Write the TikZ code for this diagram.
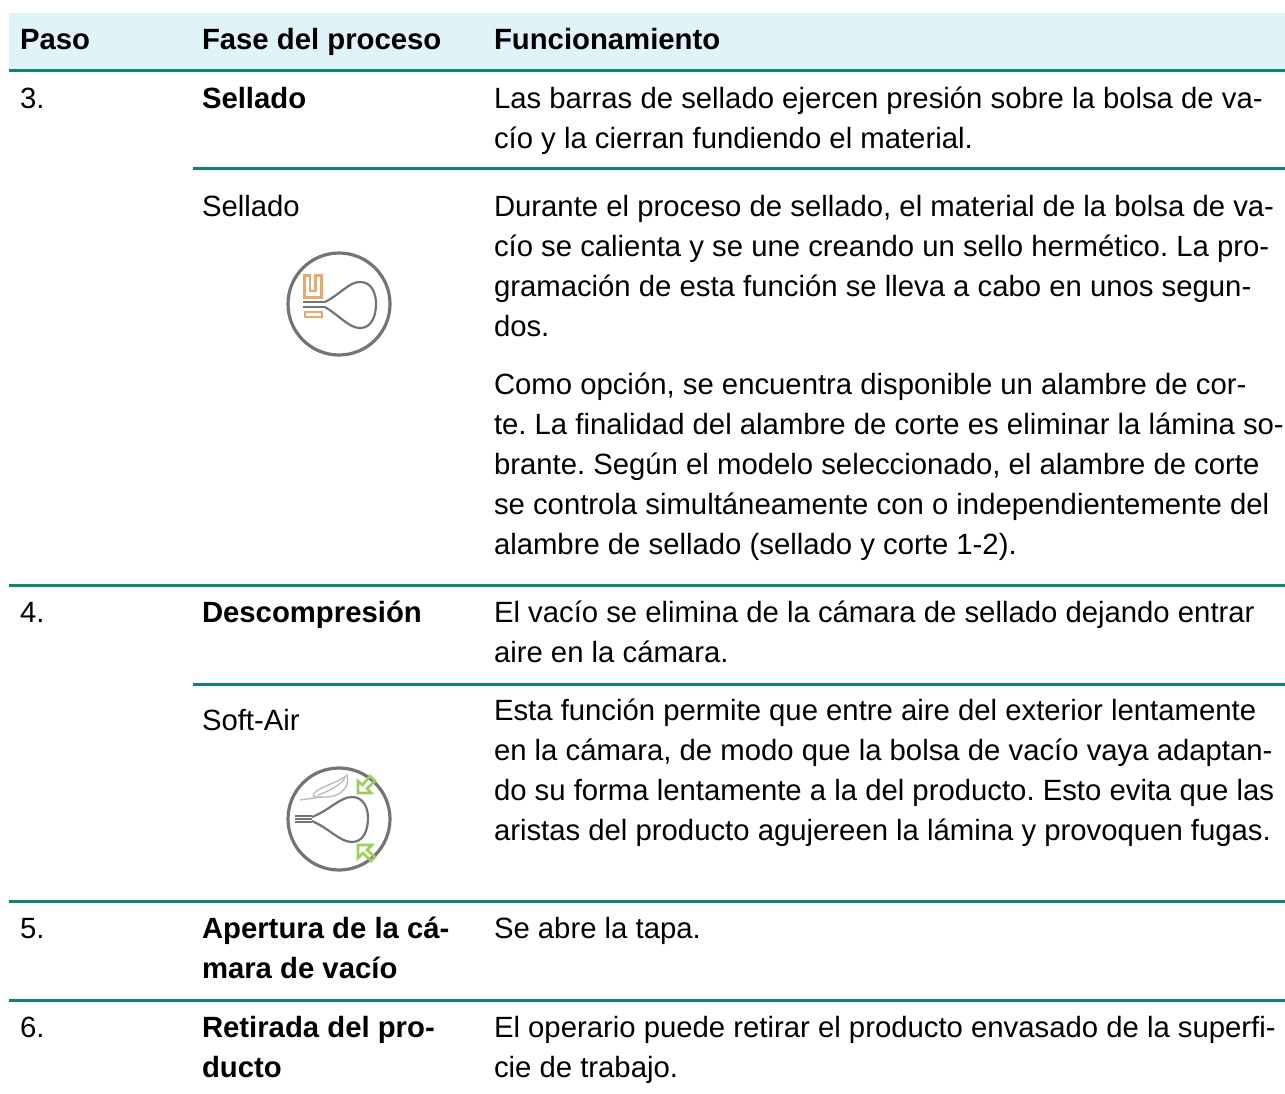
\documentclass[tikz,border=0pt]{standalone}
\usepackage{fontspec}
\setmainfont{Liberation Sans}
\frenchspacing
\tikzset{
 tx/.style={anchor=base west,inner sep=0pt,outer sep=0pt,text=black,font=\fontsize{29.3}{34}\selectfont},
 bd/.style={tx,font=\fontsize{29.3}{34}\selectfont\bfseries},
 rule/.style={draw=tealrule,line width=3pt},
 ring/.style={draw=iconGray,line width=3.2pt},
 bag/.style={draw=iconGray,line width=2.2pt},
 cord/.style={draw=iconGray,line width=1.5pt},
 orangeline/.style={draw=iconOrange,line width=2.3pt},
 greenline/.style={draw=iconGreen,line width=2.6pt,line join=miter},
 feather/.style={draw=black!28,line width=1.3pt},
}
\definecolor{tealrule}{HTML}{0E8573}
\definecolor{headbg}{HTML}{DFF3F8}
\definecolor{iconGray}{HTML}{747474}
\definecolor{iconOrange}{HTML}{EBA868}
\definecolor{iconGreen}{HTML}{9BCF5A}
\begin{document}
\begin{tikzpicture}[x=1pt,y=-1pt]
\useasboundingbox (0,0) rectangle (1285,1093);
\fill[headbg] (9,13) rectangle (1285,69);
\coordinate (r0a) at (9,70.5); \coordinate (r0b) at (1285,70.5);
\coordinate (r1a) at (193,168.5); \coordinate (r1b) at (1285,168.5);
\coordinate (r2a) at (9,585); \coordinate (r2b) at (1285,585);
\coordinate (r3a) at (193,684); \coordinate (r3b) at (1285,684);
\coordinate (r4a) at (9,901.5); \coordinate (r4b) at (1285,901.5);
\coordinate (r5a) at (9,1000); \coordinate (r5b) at (1285,1000);
\draw[rule] (r0a)--(r0b); \draw[rule] (r1a)--(r1b); \draw[rule] (r2a)--(r2b);
\draw[rule] (r3a)--(r3b); \draw[rule] (r4a)--(r4b); \draw[rule] (r5a)--(r5b);
% header
\node[bd] (h1) at (20,49) {Paso};
\node[bd] (h2) at (202,49) {Fase del proceso};
\node[bd] (h3) at (494,49) {Funcionamiento};
% step 3
\node[tx] (s3) at (20,108) {3.};
\node[bd] (s3t) at (202,108) {Sellado};
\node[tx] (a1) at (494,108) {Las barras de sellado ejercen presión sobre la bolsa de va-};
\node[tx] (a2) at (494,148) {cío y la cierran fundiendo el material.};
\node[tx] (b0) at (202,216) {Sellado};
\node[tx] (b1) at (494,216) {Durante el proceso de sellado, el material de la bolsa de va-};
\node[tx] (b2) at (494,256) {cío se calienta y se une creando un sello hermético. La pro-};
\node[tx] (b3) at (494,296) {gramación de esta función se lleva a cabo en unos segun-};
\node[tx] (b4) at (494,336) {dos.};
\node[tx] (c1) at (494,394) {Como opción, se encuentra disponible un alambre de cor-};
\node[tx] (c2) at (494,434) {te. La finalidad del alambre de corte es eliminar la lámina so-};
\node[tx] (c3) at (494,474) {brante. Según el modelo seleccionado, el alambre de corte};
\node[tx] (c4) at (494,514) {se controla simultáneamente con o independientemente del};
\node[tx] (c5) at (494,554) {alambre de sellado (sellado y corte 1-2).};
% step 4
\node[tx] (s4) at (20,622) {4.};
\node[bd] (s4t) at (202,622) {Descompresión};
\node[tx] (d1) at (494,622) {El vacío se elimina de la cámara de sellado dejando entrar};
\node[tx] (d2) at (494,662) {aire en la cámara.};
\node[tx] (e0) at (202,730) {Soft-Air};
\node[tx] (e1) at (494,720) {Esta función permite que entre aire del exterior lentamente};
\node[tx] (e2) at (494,760) {en la cámara, de modo que la bolsa de vacío vaya adaptan-};
\node[tx] (e3) at (494,800) {do su forma lentamente a la del producto. Esto evita que las};
\node[tx] (e4) at (494,840) {aristas del producto agujereen la lámina y provoquen fugas.};
% step 5
\node[tx] (s5) at (20,938) {5.};
\node[bd] (s5a) at (202,938) {Apertura de la cá-};
\node[bd] (s5b) at (202,978) {mara de vacío};
\node[tx] (f1) at (494,938) {Se abre la tapa.};
% step 6
\node[tx] (s6) at (20,1037) {6.};
\node[bd] (s6a) at (202,1037) {Retirada del pro-};
\node[bd] (s6b) at (202,1077) {ducto};
\node[tx] (g1) at (494,1037) {El operario puede retirar el producto envasado de la superfi-};
\node[tx] (g2) at (494,1077) {cie de trabajo.};
% icon sellado
\draw[ring] (339,304) circle (51);
\draw[bag] (325,302) .. controls (342,293) and (349,282) .. (360,282)
  .. controls (371,282) and (376,292) .. (376,304)
  .. controls (376,317) and (371,328) .. (360,328)
  .. controls (349,328) and (340,316) .. (325,307);
\draw[cord] (303,302) -- (325,302); \draw[cord] (303,307) -- (325,307);
\draw[orangeline] (304.5,275.5) -- (304.5,297.5) -- (321.5,297.5) -- (321.5,275.5) -- (315.5,275.5) -- (315.5,291) -- (310,291) -- (310,275.5) -- cycle;
\draw[orangeline] (305,312) rectangle (322,317);
% icon soft-air
\draw[ring] (339,819) circle (51);
\draw[bag] (312,817) .. controls (330,810) and (340,797) .. (352,797)
  .. controls (363,797) and (368,807) .. (368,818)
  .. controls (368,831) and (363,842) .. (352,842)
  .. controls (340,842) and (330,829) .. (312,821);
\draw[cord] (295,816) -- (312,816); \draw[cord] (295,819) -- (312,819); \draw[cord] (295,822) -- (312,822);
\draw[feather] (300,800) -- (322,797);
\draw[feather] (313,796) .. controls (315,787) and (335,785) .. (347,775)
  .. controls (350,785) and (343,797) .. (325,797) .. controls (320,797) and (315,797) .. (313,796);
\draw[feather] (318,795) .. controls (330,791) and (340,785) .. (345,778);
\draw[greenline] (358,781) -- (358,793) -- (371,793) -- (367,788.5) -- (375,781) -- (370,776) -- (362.5,785) -- cycle;
\draw[greenline] (358,845) -- (372,845) -- (367,850) -- (375,857) -- (371,861) -- (363,853) -- (358,858) -- cycle;
\end{tikzpicture}
\end{document}
